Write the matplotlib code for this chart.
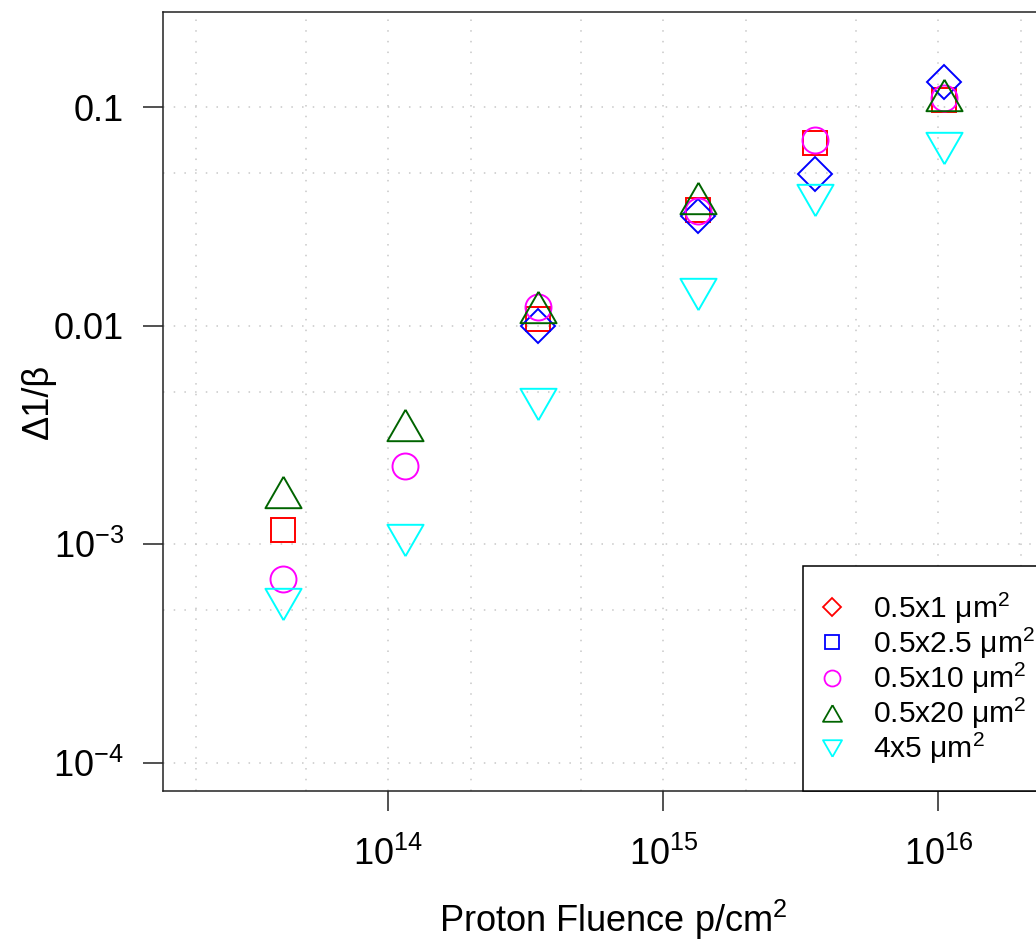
import numpy as np
import matplotlib
matplotlib.use("Agg")
import matplotlib.pyplot as plt
from matplotlib.ticker import FixedLocator, FixedFormatter, NullFormatter
from matplotlib.lines import Line2D

plt.rcParams['font.family'] = ['Liberation Sans', 'DejaVu Sans']
plt.rcParams['mathtext.fontset'] = 'custom'
plt.rcParams['mathtext.rm'] = 'Liberation Sans'
plt.rcParams['mathtext.it'] = 'Liberation Sans:italic'
plt.rcParams['mathtext.bf'] = 'Liberation Sans:bold'

# ---- data ----
fluence = [4.15e13, 1.15e14, 3.50e14, 1.336e15, 3.57e15, 1.046e16]
nan = np.nan
s_05x1 = [1.160e-3, nan, 0.01076, 0.0340, 0.0684, 0.1076]
s_05x25 = [nan, nan, 0.0100, 0.0318, 0.0493, 0.1306]
s_05x10 = [6.97e-4, 2.277e-3, 0.01213, 0.0335, 0.0705, 0.1100]
s_05x20 = [1.742e-3, 3.527e-3, 0.01223, 0.0385, nan, 0.1138]
s_4x5 = [5.30e-4, 1.041e-3, 4.385e-3, 0.01398, 0.0375, 0.0652]

labels = ['0.5x1 μm$^2$', '0.5x2.5 μm$^2$', '0.5x10 μm$^2$', '0.5x20 μm$^2$', '4x5 μm$^2$']
colors = ['#FF0000', '#0000FF', '#FF00FF', '#006400', '#00FFFF']

xticks = [1e14, 1e15, 1e16]
xtick_labels = ['$10^{14}$', '$10^{15}$', '$10^{16}$']
yticks = [1e-4, 1e-3, 1e-2, 1e-1]
ytick_labels = ['$10^{-4}$', '$10^{-3}$', '0.01', '0.1']
xgrid = [2e13, 5e13, 1e14, 2e14, 5e14, 1e15, 2e15, 5e15, 1e16, 2e16]
ygrid = [1e-4, 5e-4, 1e-3, 5e-3, 1e-2, 5e-2, 1e-1]

# ---- markers ----
tri_up = [(0, 1), (-1.15, -1), (1.15, -1), (0, 1)]
tri_dn = [(0, -1), (-1.15, 1), (1.15, 1), (0, -1)]

plot_markers = ['s', 'D', 'o', tri_up, tri_dn]
plot_sizes = [17.3, 17.3, 18.7, 26, 26]
legend_markers = ['D', 's', 'o', tri_up, tri_dn]
legend_sizes = [9.2, 9.4, 11.5, 13.7, 13.7]

fig = plt.figure(figsize=(10.36, 9.41), dpi=100)
W, H = 1036.0, 941.0
left, right, top, bottom = 163.3, 1063.0, 12.0, 790.7
ax = fig.add_axes([left / W, 1 - bottom / H, (right - left) / W, (bottom - top) / H])
ax.set_xscale('log')
ax.set_yscale('log')
ax.set_xlim(10 ** 13.1818, 10 ** 16.453)
ax.set_ylim(10 ** -4.128, 10 ** -0.5638)

series = [s_05x1, s_05x25, s_05x10, s_05x20, s_4x5]
for ys, c, m, ms in zip(series, colors, plot_markers, plot_sizes):
    ax.plot(fluence, ys, ls='none', marker=m, ms=ms, mfc='none', mec=c, mew=1.4, zorder=3)

ax.xaxis.set_major_locator(FixedLocator(xticks))
ax.xaxis.set_major_formatter(FixedFormatter(xtick_labels))
ax.yaxis.set_major_locator(FixedLocator(yticks))
ax.yaxis.set_major_formatter(FixedFormatter(ytick_labels))
ax.xaxis.set_minor_locator(FixedLocator(xgrid))
ax.yaxis.set_minor_locator(FixedLocator(ygrid))
ax.xaxis.set_minor_formatter(NullFormatter())
ax.yaxis.set_minor_formatter(NullFormatter())
ax.tick_params(which='minor', length=0)
ax.tick_params(which='major', direction='out', length=14.4, width=1.1, labelsize=26, color='#222222')
ax.tick_params(axis='x', which='major', pad=19)
ax.tick_params(axis='y', which='major', pad=14)
ax.grid(True, which='both', color='#c8c8c8', linestyle=(0, (1, 6)), linewidth=1.1)
ax.set_axisbelow(True)
for sp in ax.spines.values():
    sp.set_linewidth(1.1)
    sp.set_color('#222222')

ax.set_xlabel('Proton Fluence p/cm$^2$', fontsize=26)
ax.set_ylabel('Δ1/β', fontsize=26)
ax.xaxis.set_label_coords(0.5, -0.137)
ax.xaxis.label.set_va('top')
ax.yaxis.set_label_coords(-0.119, 0.5)

handles = [Line2D([], [], ls='none', marker=m, ms=ms, mfc='none', mec=c, mew=1.3)
           for m, ms, c in zip(legend_markers, legend_sizes, colors)]
leg = ax.legend(handles, labels, loc='lower left',
                bbox_to_anchor=((803 - left) / (right - left), 0), borderaxespad=0,
                fontsize=21.6, frameon=True, fancybox=False, framealpha=1,
                edgecolor='black', borderpad=0.81, handlelength=0.29,
                handletextpad=1.23, labelspacing=0.0, numpoints=1)
leg.get_frame().set_linewidth(1.1)

fig.savefig('out.png', dpi=100)
